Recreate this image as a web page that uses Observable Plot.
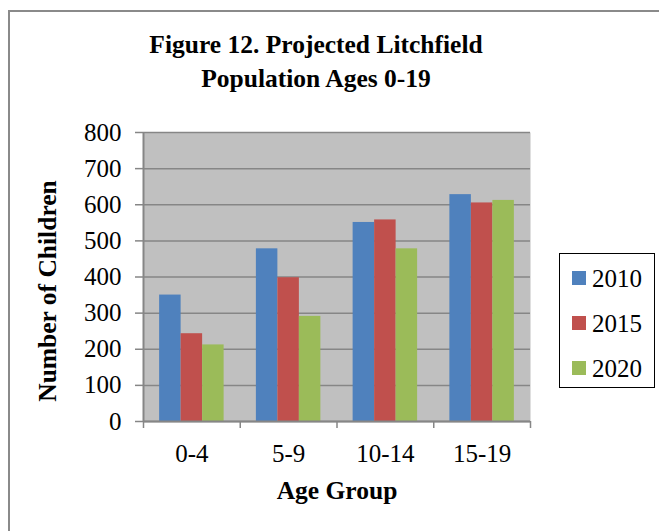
<!DOCTYPE html>
<html>
<head>
<meta charset="utf-8">
<script src="https://cdn.jsdelivr.net/npm/d3@7"></script>
<script src="https://cdn.jsdelivr.net/npm/@observablehq/plot@0.6"></script>
<style>
  html, body { margin: 0; padding: 0; background: #fff; overflow: hidden; }
  #chart { position: relative; width: 659px; height: 531px; overflow: hidden;
           font-family: "Liberation Serif", "Times New Roman", serif; }
  #outline { position: absolute; left: 8px; top: 10px; width: 720px; height: 600px;
             border: 2px solid #8a8a8a; box-sizing: border-box; }
  #title { position: absolute; left: 0; top: 28px; width: 632px; text-align: center;
           font-weight: bold; font-size: 25.5px; line-height: 34px; color: #000; }
  #plot { position: absolute; left: 0; top: 0; }
  #legend { position: absolute; left: 559px; top: 253px; width: 96px; height: 135px;
            box-sizing: border-box; border: 1.5px solid #000; background: #fff; }
  .item { position: absolute; left: 12px; height: 20px; font-size: 25px; line-height: 20px; }
  .swatch { position: absolute; left: 0; top: 2px; width: 14px; height: 14px; }
  .label { position: absolute; left: 20px; top: 0; white-space: nowrap; }
</style>
</head>
<body>
<div id="chart">
  <div id="outline"></div>
  <div id="plot"></div>
  <div id="title">Figure 12. Projected Litchfield<br>Population Ages 0-19</div>
  <div id="legend"></div>
</div>
<script>
// Age groups along the x axis
const ageGroups = ["0-4", "5-9", "10-14", "15-19"];
// Projection years (one bar per year in each group)
const years = ["2010", "2015", "2020"];
const yearColors = ["#4F81BD", "#C0504D", "#9BBB59"];
// Projected number of children, by year, in age-group order
const values2010 = [350, 478, 551, 628];
const values2015 = [243, 398, 558, 605];
const values2020 = [212, 291, 478, 612];
// Y axis ticks
const yTicks = [0, 100, 200, 300, 400, 500, 600, 700, 800];

const series = [values2010, values2015, values2020];
const rows = [];
ageGroups.forEach((g, gi) => {
  years.forEach((yr, yi) => {
    rows.push({group: g, year: yr, value: series[yi][gi], gi, yi});
  });
});

// Clustered bars: each group occupies one unit of x; gap between clusters = 150% of a bar
const barW = 1 / (years.length + 1.5);
const offset = barW * 0.75;

const grid = "#868686";

const plot = Plot.plot({
  width: 659,
  height: 531,
  marginLeft: 143,
  marginRight: 129,
  marginTop: 132,
  marginBottom: 110,
  style: {fontFamily: "Liberation Serif, Times New Roman, serif", fontSize: "25px", color: "#000", background: "transparent"},
  x: {domain: [0, ageGroups.length]},
  y: {domain: [0, 800]},
  color: {domain: years, range: yearColors},
  marks: [
    Plot.frame({fill: "#c0c0c0", stroke: null}),
    Plot.gridY(yTicks, {stroke: grid, strokeOpacity: 1, strokeWidth: 1.5}),
    Plot.rectY(rows, {
      x1: d => d.gi + offset + d.yi * barW,
      x2: d => d.gi + offset + (d.yi + 1) * barW,
      y: "value",
      fill: "year"
    }),
    Plot.ruleX([0], {stroke: grid, strokeWidth: 2}),
    Plot.ruleY([0], {stroke: grid, strokeWidth: 2}),
    Plot.axisY({ticks: yTicks, tickSize: 8, tickPadding: 14, stroke: grid, strokeWidth: 1.5, fill: "#000", label: null}),
    Plot.axisX({ticks: d3.range(0, ageGroups.length + 1), tickSize: 7, tickFormat: () => "", stroke: grid, strokeWidth: 1.5, label: null}),
    Plot.axisX({ticks: ageGroups.map((_, i) => i + 0.5), tickSize: 0, tickPadding: 23, tickFormat: v => ageGroups[Math.round(v - 0.5)], fill: "#000", label: null}),
    Plot.text(["Number of Children"], {text: d => d, frameAnchor: "left", textAnchor: "middle", lineAnchor: "middle", rotate: -90, dx: -96, dy: 14, fontWeight: "bold", fontSize: 25.5}),
    Plot.text(["Age Group"], {text: d => d, frameAnchor: "bottom", textAnchor: "middle", lineAnchor: "middle", dy: 69, fontWeight: "bold", fontSize: 25.5})
  ]
});
document.getElementById("plot").appendChild(plot);

// Legend built from the same year/colour arrays
const legend = document.getElementById("legend");
years.forEach((yr, i) => {
  const item = document.createElement("div");
  item.className = "item";
  item.style.top = (15 + i * 45) + "px";
  const sw = document.createElement("div");
  sw.className = "swatch";
  sw.style.background = yearColors[i];
  const lab = document.createElement("div");
  lab.className = "label";
  lab.textContent = yr;
  item.appendChild(sw);
  item.appendChild(lab);
  legend.appendChild(item);
});
</script>
</body>
</html>
